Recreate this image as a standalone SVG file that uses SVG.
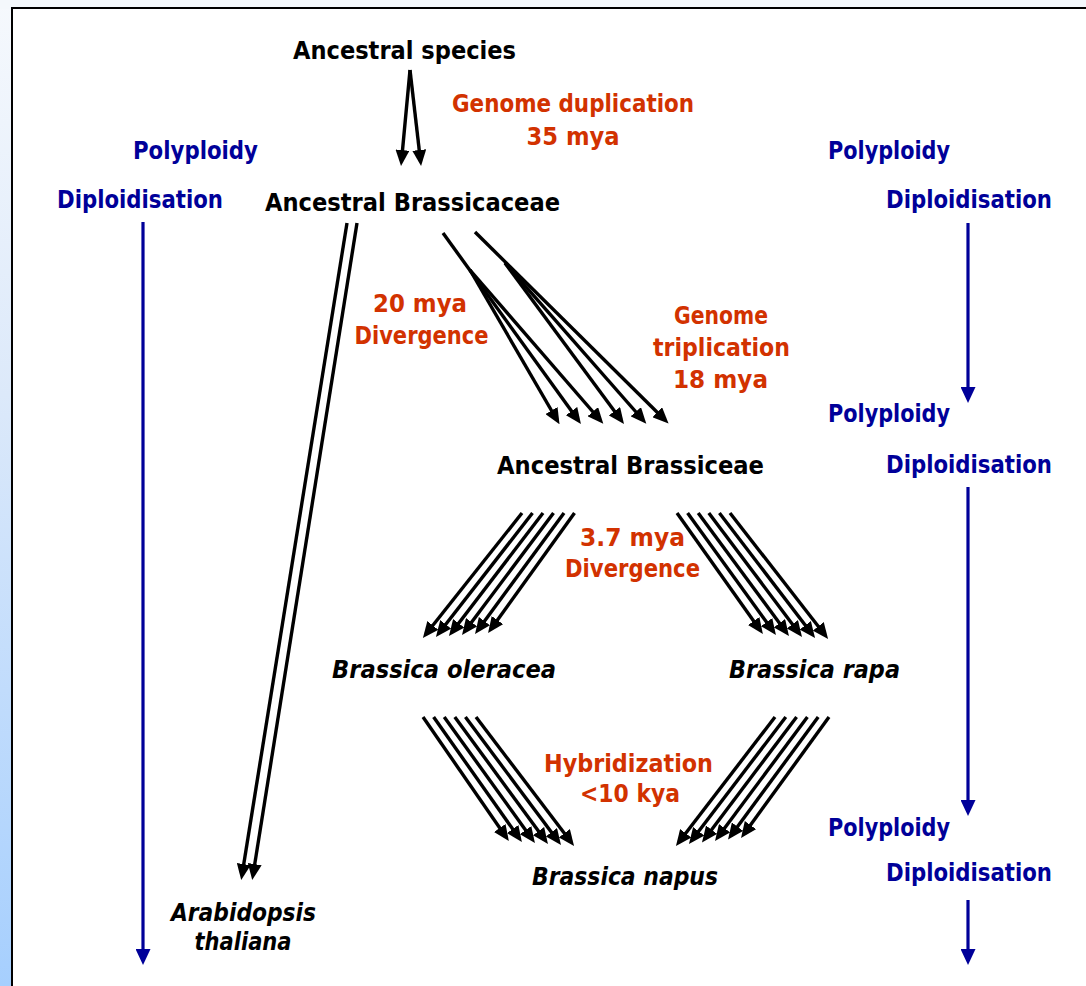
<svg xmlns="http://www.w3.org/2000/svg" width="1086" height="986" viewBox="0 0 1086 986">
  <style>
    text { font-family: "DejaVu Sans", "Liberation Sans", sans-serif; font-weight: bold; font-size: 24px; text-anchor: middle; }
    .k { fill: #000000; }
    .r { fill: #d23200; }
    .b { fill: #000099; }
    .it { font-style: italic; }
    .ln { stroke: #000000; stroke-width: 3.4; fill: none; marker-end: url(#ah); }
    .bl { stroke: #000099; stroke-width: 3.2; fill: none; marker-end: url(#bh); }
  </style>
  <defs>
    <linearGradient id="bg" x1="0" y1="0" x2="0" y2="1">
      <stop offset="0" stop-color="#f6f9fd"/>
      <stop offset="0.4" stop-color="#dce9fa"/>
      <stop offset="1" stop-color="#a6cffe"/>
    </linearGradient>
    <marker id="ah" markerUnits="userSpaceOnUse" markerWidth="16" markerHeight="14" refX="11" refY="7" orient="auto">
      <path d="M0,0 L16,7 L0,14 Z" fill="#000000"/>
    </marker>
    <marker id="bh" markerUnits="userSpaceOnUse" markerWidth="16" markerHeight="15" refX="12" refY="7.5" orient="auto">
      <path d="M0,0 L16,7.5 L0,15 Z" fill="#000099"/>
    </marker>
  </defs>

  <rect x="0" y="0" width="1086" height="986" fill="url(#bg)"/>
  <rect x="0" y="0" width="1086" height="9" fill="#f4f8fc"/>
  <rect x="12" y="8" width="1090" height="990" fill="#ffffff" stroke="#000000" stroke-width="2"/>

  <g id="connectors">
    <!-- blue timeline arrows -->
    <line class="bl" x1="143" y1="222" x2="143" y2="961"/>
    <line class="bl" x1="968" y1="223" x2="968" y2="399"/>
    <line class="bl" x1="968" y1="487" x2="968" y2="812"/>
    <line class="bl" x1="968" y1="900" x2="968" y2="961"/>

    <!-- genome duplication -->
    <line class="ln" x1="410" y1="70" x2="401.5" y2="161"/>
    <line class="ln" x1="410" y1="70" x2="420.5" y2="161"/>

    <!-- to Arabidopsis -->
    <line class="ln" x1="347" y1="223" x2="242" y2="875"/>
    <line class="ln" x1="357" y1="223" x2="253" y2="875"/>

    <!-- genome triplication -->
    <line class="ln" x1="443" y1="233" x2="578" y2="420"/>
    <line class="ln" x1="470" y1="270" x2="557" y2="420"/>
    <line class="ln" x1="470" y1="270" x2="600" y2="420"/>
    <line class="ln" x1="475" y1="232" x2="665" y2="420"/>
    <line class="ln" x1="505" y1="263" x2="621" y2="420"/>
    <line class="ln" x1="505" y1="263" x2="643" y2="420"/>

    <!-- to Brassica oleracea -->
    <line class="ln" x1="522" y1="513" x2="426" y2="634"/>
    <line class="ln" x1="532.5" y1="513" x2="439" y2="633"/>
    <line class="ln" x1="543" y1="513" x2="452" y2="632"/>
    <line class="ln" x1="553.5" y1="513" x2="465" y2="631"/>
    <line class="ln" x1="564" y1="513" x2="478" y2="630"/>
    <line class="ln" x1="574.5" y1="513" x2="491" y2="629"/>

    <!-- to Brassica rapa -->
    <line class="ln" x1="677" y1="513" x2="760" y2="630"/>
    <line class="ln" x1="687.6" y1="513" x2="773" y2="631"/>
    <line class="ln" x1="698.2" y1="513" x2="786" y2="632"/>
    <line class="ln" x1="708.8" y1="513" x2="799" y2="633"/>
    <line class="ln" x1="719.4" y1="513" x2="812" y2="634"/>
    <line class="ln" x1="730" y1="513" x2="825" y2="635"/>

    <!-- hybridization left -->
    <line class="ln" x1="423" y1="717" x2="506" y2="837"/>
    <line class="ln" x1="433.6" y1="717" x2="519" y2="838"/>
    <line class="ln" x1="444.2" y1="717" x2="532" y2="839"/>
    <line class="ln" x1="454.8" y1="717" x2="545" y2="840"/>
    <line class="ln" x1="465.4" y1="717" x2="558" y2="841"/>
    <line class="ln" x1="476" y1="717" x2="571" y2="842"/>

    <!-- hybridization right -->
    <line class="ln" x1="775" y1="717" x2="679" y2="842"/>
    <line class="ln" x1="785.8" y1="717" x2="692" y2="840"/>
    <line class="ln" x1="796.6" y1="717" x2="705" y2="838.5"/>
    <line class="ln" x1="807.4" y1="717" x2="718" y2="837"/>
    <line class="ln" x1="818.2" y1="717" x2="731" y2="835.5"/>
    <line class="ln" x1="829" y1="717" x2="744" y2="834"/>
  </g>

  <g id="ancestral-species"><text class="k" x="404.5" y="59" textLength="223" lengthAdjust="spacingAndGlyphs">Ancestral species</text></g>
  <g id="genome-duplication">
    <text class="r" x="573" y="112" textLength="242" lengthAdjust="spacingAndGlyphs">Genome duplication</text>
    <text class="r" x="573" y="145" textLength="93" lengthAdjust="spacingAndGlyphs">35 mya</text>
  </g>
  <g id="ancestral-brassicaceae"><text class="k" x="412.5" y="211" textLength="295" lengthAdjust="spacingAndGlyphs">Ancestral Brassicaceae</text></g>

  <g id="left-timeline">
    <text class="b" x="195.5" y="159" textLength="125" lengthAdjust="spacingAndGlyphs">Polyploidy</text>
    <text class="b" x="140" y="208" textLength="166" lengthAdjust="spacingAndGlyphs">Diploidisation</text>
  </g>
  <g id="right-timeline-1">
    <text class="b" x="889" y="159" textLength="122" lengthAdjust="spacingAndGlyphs">Polyploidy</text>
    <text class="b" x="969" y="208" textLength="166" lengthAdjust="spacingAndGlyphs">Diploidisation</text>
  </g>
  <g id="right-timeline-2">
    <text class="b" x="889" y="422" textLength="122" lengthAdjust="spacingAndGlyphs">Polyploidy</text>
    <text class="b" x="969" y="473" textLength="166" lengthAdjust="spacingAndGlyphs">Diploidisation</text>
  </g>
  <g id="right-timeline-3">
    <text class="b" x="889" y="836" textLength="122" lengthAdjust="spacingAndGlyphs">Polyploidy</text>
    <text class="b" x="969" y="881" textLength="166" lengthAdjust="spacingAndGlyphs">Diploidisation</text>
  </g>

  <g id="divergence-20">
    <text class="r" x="420" y="312" textLength="94" lengthAdjust="spacingAndGlyphs">20 mya</text>
    <text class="r" x="421.5" y="344" textLength="134" lengthAdjust="spacingAndGlyphs">Divergence</text>
  </g>
  <g id="genome-triplication">
    <text class="r" x="721" y="324" textLength="94" lengthAdjust="spacingAndGlyphs">Genome</text>
    <text class="r" x="721.5" y="356" textLength="137" lengthAdjust="spacingAndGlyphs">triplication</text>
    <text class="r" x="720.5" y="388" textLength="95" lengthAdjust="spacingAndGlyphs">18 mya</text>
  </g>
  <g id="ancestral-brassiceae"><text class="k" x="630.5" y="474" textLength="267" lengthAdjust="spacingAndGlyphs">Ancestral Brassiceae</text></g>
  <g id="divergence-3-7">
    <text class="r" x="632.5" y="546" textLength="105" lengthAdjust="spacingAndGlyphs">3.7 mya</text>
    <text class="r" x="632.5" y="577" textLength="135" lengthAdjust="spacingAndGlyphs">Divergence</text>
  </g>
  <g id="brassica-oleracea"><text class="k it" x="444" y="678" textLength="224" lengthAdjust="spacingAndGlyphs">Brassica oleracea</text></g>
  <g id="brassica-rapa"><text class="k it" x="814.5" y="678" textLength="171" lengthAdjust="spacingAndGlyphs">Brassica rapa</text></g>
  <g id="hybridization">
    <text class="r" x="628.5" y="772" textLength="169" lengthAdjust="spacingAndGlyphs">Hybridization</text>
    <text class="r" x="630" y="802" textLength="100" lengthAdjust="spacingAndGlyphs">&lt;10 kya</text>
  </g>
  <g id="brassica-napus"><text class="k it" x="625" y="885" textLength="186" lengthAdjust="spacingAndGlyphs">Brassica napus</text></g>
  <g id="arabidopsis-thaliana">
    <text class="k it" x="243.5" y="921" textLength="145" lengthAdjust="spacingAndGlyphs">Arabidopsis</text>
    <text class="k it" x="243" y="950" textLength="97" lengthAdjust="spacingAndGlyphs">thaliana</text>
  </g>
</svg>
